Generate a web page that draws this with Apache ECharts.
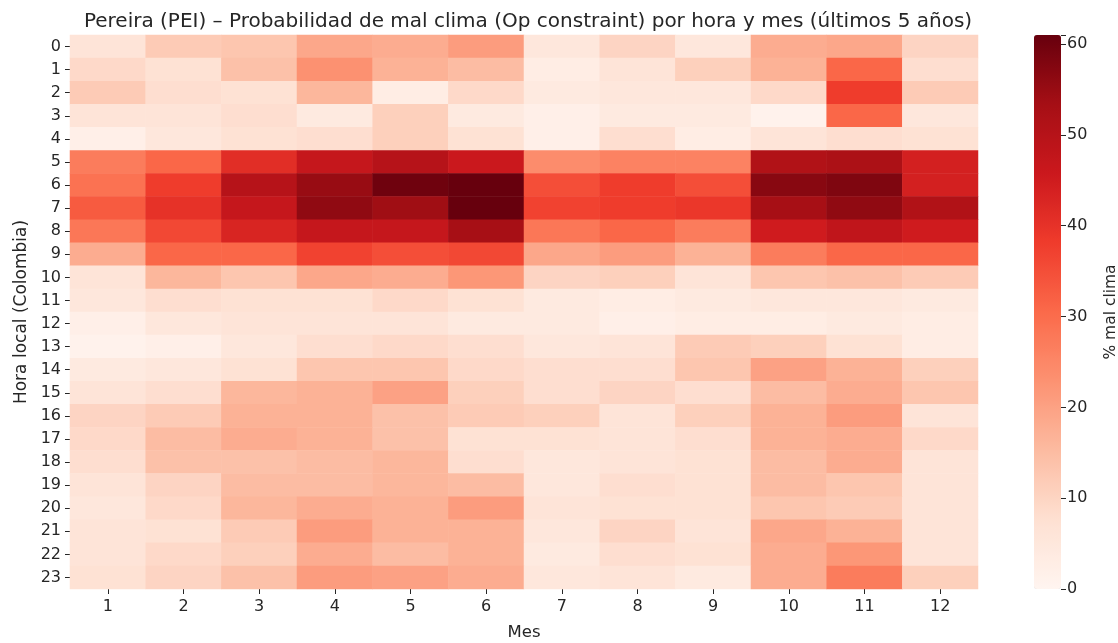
<!DOCTYPE html>
<html><head><meta charset="utf-8">
<script src="https://cdn.jsdelivr.net/npm/echarts@6/dist/echarts.min.js"></script>
<style>html,body{margin:0;padding:0;background:#fff}#c{width:1118px;height:643px}</style>
</head><body><div id="c"></div>
<script>
const months = ['1','2','3','4','5','6','7','8','9','10','11','12'];
const hours = ['0','1','2','3','4','5','6','7','8','9','10','11','12','13','14','15','16','17','18','19','20','21','22','23'];
const colorTicks = [0,10,20,30,40,50,60];
// values[hour] = [month1..month12], % mal clima
const h00 = [6,12,13,19,18,21,5,10,5,18,19,10];
const h01 = [9,7,14,23,17,15,3,6,11,17,31,8];
const h02 = [12,8,7,16,3,9,4,5,5,9,38,12];
const h03 = [6,6,8,4,11,4,2,4,4,1,31,5];
const h04 = [2,5,7,8,11,7,2,8,3,6,8,7];
const h05 = [27,31,41,47,50,46,24,26,26,51,52,44];
const h06 = [29,38,50,55,60,61,35,38,35,57,58,44];
const h07 = [33,40,47,56,54,61,37,38,39,53,56,51];
const h08 = [28,36,43,47,47,53,28,31,27,45,48,45];
const h09 = [18,31,31,37,35,36,19,21,17,27,31,31];
const h10 = [6,16,13,19,18,22,10,11,6,13,14,12];
const h11 = [5,8,7,7,9,7,4,3,4,5,5,4];
const h12 = [2,5,6,6,6,4,4,2,3,3,4,3];
const h13 = [1,2,5,8,9,8,5,6,12,11,7,3];
const h14 = [4,5,7,13,13,9,8,8,13,20,17,11];
const h15 = [6,8,16,17,20,11,8,10,8,15,18,13];
const h16 = [10,12,17,17,14,12,11,6,11,17,21,6];
const h17 = [9,15,18,17,14,7,7,6,8,17,18,9];
const h18 = [8,14,14,15,16,8,5,6,7,15,18,6];
const h19 = [6,10,15,15,16,15,5,8,7,15,13,6];
const h20 = [5,9,16,18,17,21,6,7,7,13,12,6];
const h21 = [6,7,12,21,17,17,5,10,6,19,17,6];
const h22 = [6,9,11,18,15,17,4,8,7,18,22,6];
const h23 = [7,10,14,21,20,18,5,6,4,18,27,11];
const values = [h00,h01,h02,h03,h04,h05,h06,h07,h08,h09,h10,h11,h12,h13,h14,h15,h16,h17,h18,h19,h20,h21,h22,h23];

const data = [];
values.forEach((row, hi) => row.forEach((v, mi) => data.push([mi, hi, v])));

const reds = ['#fff5f0','#fee0d2','#fcbba1','#fc9272','#fb6a4a','#ef3b2c','#cb181d','#a50f15','#67000d'];
const font = 'DejaVu Sans';
const txt = '#262626';

const chart = echarts.init(document.getElementById('c'), null, {renderer:'canvas'});
chart.setOption({
  animation: false,
  backgroundColor: '#fff',
  textStyle: {fontFamily: font},
  title: {
    text: 'Pereira (PEI) – Probabilidad de mal clima (Op constraint) por hora y mes (últimos 5 años)',
    left: 523, top: 7, textAlign: 'center',
    textStyle: {fontFamily: font, fontSize: 20, fontWeight: 'normal', color: txt}
  },
  grid: [
    {left: 70, top: 35, width: 908, height: 554, outerBoundsMode: 'none', containLabel: false},
    {left: 1034, top: 35, width: 27, height: 554, outerBoundsMode: 'none', containLabel: false}
  ],
  xAxis: [
    {type: 'category', gridIndex: 0, data: months, position: 'bottom',
     axisLine: {show: false}, splitLine: {show: false},
     axisTick: {show: true, alignWithLabel: true, length: 5, lineStyle: {color: txt}},
     axisLabel: {fontFamily: font, fontSize: 16, color: txt, margin: 10},
     name: 'Mes', nameLocation: 'middle', nameGap: 35,
     nameTextStyle: {fontFamily: font, fontSize: 16.5, color: txt}},
    {type: 'value', gridIndex: 1, show: false, min: 0, max: 1,
     axisLine: {show: false, onZero: false}, axisTick: {show: false}, axisLabel: {show: false}, splitLine: {show: false}}
  ],
  yAxis: [
    {type: 'category', gridIndex: 0, data: hours, inverse: true,
     axisLine: {show: false}, splitLine: {show: false},
     axisTick: {show: true, alignWithLabel: true, length: 5, lineStyle: {color: txt}},
     axisLabel: {fontFamily: font, fontSize: 16, color: txt, margin: 9},
     name: 'Hora local (Colombia)', nameLocation: 'middle', nameGap: 40, nameRotate: 90,
     nameTextStyle: {fontFamily: font, fontSize: 17, color: txt}},
    {type: 'value', gridIndex: 1, min: 0, max: 61, interval: 10, position: 'right',
     axisLine: {show: false, onZero: false}, splitLine: {show: false},
     axisTick: {show: true, length: 5, lineStyle: {color: txt}},
     axisLabel: {fontFamily: font, fontSize: 16, color: txt, margin: 6,
       formatter: v => colorTicks.includes(v) ? String(v) : ''},
     name: '% mal clima', nameLocation: 'middle', nameGap: 42, nameRotate: 90,
     nameTextStyle: {fontFamily: font, fontSize: 15.5, color: txt}}
  ],
  visualMap: {
    type: 'continuous', min: 0, max: 61, calculable: false, seriesIndex: 0,
    orient: 'vertical', left: 1034, top: 35, itemWidth: 27, itemHeight: 554,
    padding: 0, hoverLink: false, indicatorSize: 0,
    indicatorStyle: {opacity: 0}, textStyle: {color: 'rgba(0,0,0,0)'},
    inRange: {color: reds}
  },
  series: [{
    type: 'heatmap', xAxisIndex: 0, yAxisIndex: 0, data: data,
    itemStyle: {borderWidth: 0},
    emphasis: {disabled: true}
  }]
});
</script></body></html>
